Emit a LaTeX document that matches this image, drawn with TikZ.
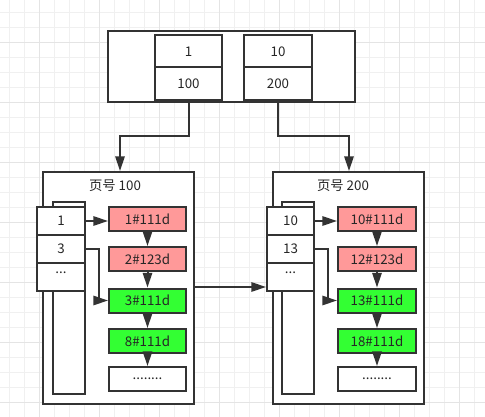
\documentclass[tikz,border=0pt]{standalone}
\usepackage{fontspec}
\setmainfont{Noto Sans CJK SC}
\usetikzlibrary{arrows.meta}
\definecolor{ln}{HTML}{333333}
\definecolor{pinkc}{HTML}{FF9999}
\definecolor{greenc}{HTML}{33FF33}
\definecolor{gmin}{HTML}{F0F0F0}
\definecolor{gmaj}{HTML}{E4E4E4}
\tikzset{
  box/.style={draw=ln, line width=1.5pt, fill=white, inner sep=0pt, font=\fontsize{10}{11}\selectfont, text=black!85},
  rec/.style={box, minimum height=18pt},
  arr/.style={draw=ln, line width=1.5pt, -{Triangle[length=11pt,width=7pt]}},
  title/.style={inner sep=0pt, font=\fontsize{10}{11}\selectfont, text=black!85}
}
\begin{document}
\begin{tikzpicture}[x=0.75pt,y=-0.75pt]
\useasboundingbox (0,0) rectangle (485,417);
\fill[white] (0,0) rectangle (485,417);
% grid
\foreach \i in {0,...,31} {
  \pgfmathsetmacro{\xx}{9.3+15*\i}
  \draw[gmin, line width=0.75pt] (\xx,0) -- (\xx,417);
}
\foreach \i in {0,...,27} {
  \pgfmathsetmacro{\yy}{12.3+15*\i}
  \draw[gmin, line width=0.75pt] (0,\yy) -- (485,\yy);
}
\foreach \i in {0,...,7} {
  \pgfmathsetmacro{\xx}{39.3+60*\i}
  \draw[gmaj, line width=0.75pt] (\xx,0) -- (\xx,417);
}
\foreach \i in {0,...,6} {
  \pgfmathsetmacro{\yy}{42.3+60*\i}
  \draw[gmaj, line width=0.75pt] (0,\yy) -- (485,\yy);
}
% top box
\node[box, minimum width=185.25pt, minimum height=53.25pt] (top) at (231.5,66.5) {};
\node[box, minimum width=50.25pt, minimum height=24.4pt] (ka) at (188.5,51.25) {1};
\node[box, minimum width=50.25pt, minimum height=24.4pt] (pa) at (188.5,83.75) {100};
\node[box, minimum width=51pt, minimum height=24.4pt] (kb) at (278,51.25) {10};
\node[box, minimum width=51pt, minimum height=24.4pt] (pb) at (278,83.75) {200};
% pages
\node[box, minimum width=113.25pt, minimum height=174pt] (p1) at (118.5,288) {};
\node[box, minimum width=113.25pt, minimum height=174pt] (p2) at (348.5,288) {};
\node[title] (t1) at (115,186) {页号 100};
\node[title] (t2) at (343,186) {页号 200};
% back rects
\node[box, minimum width=24pt, minimum height=144pt] (b1) at (69,298) {};
\node[box, minimum width=24pt, minimum height=144pt] (b2) at (298,298) {};
% index cells page 1
\node[box, minimum width=36pt, minimum height=21pt] (i1) at (61,221) {1};
\node[box, minimum width=36pt, minimum height=21pt] (i2) at (61,249) {3};
\node[box, minimum width=36pt, minimum height=21pt] (i3) at (61,277) {};
\node[inner sep=0pt, font=\fontsize{10}{11}\selectfont, text=black!85] (d1) at (61,273) {...};
% index cells page 2
\node[box, minimum width=35.25pt, minimum height=21pt] (j1) at (290.5,221) {10};
\node[box, minimum width=35.25pt, minimum height=21pt] (j2) at (290.5,249) {13};
\node[box, minimum width=35.25pt, minimum height=21pt] (j3) at (290.5,277) {};
\node[inner sep=0pt, font=\fontsize{10}{11}\selectfont, text=black!85] (d2) at (290.5,273) {...};
% records page 1
\node[rec, fill=pinkc, minimum width=57.75pt] (r1) at (147.5,219) {1\#111d};
\node[rec, fill=pinkc, minimum width=57.75pt] (r2) at (147.5,259) {2\#123d};
\node[rec, fill=greenc, minimum width=57.75pt] (r3) at (147.5,300.5) {3\#111d};
\node[rec, fill=greenc, minimum width=57.75pt] (r4) at (147.5,341) {8\#111d};
\node[rec, minimum width=57.75pt] (r5) at (147.5,379) {........};
% records page 2
\node[rec, fill=pinkc, minimum width=58.5pt] (s1) at (377,219) {10\#111d};
\node[rec, fill=pinkc, minimum width=58.5pt] (s2) at (377,259) {12\#123d};
\node[rec, fill=greenc, minimum width=58.5pt] (s3) at (377,300.5) {13\#111d};
\node[rec, fill=greenc, minimum width=58.5pt] (s4) at (377,341) {18\#111d};
\node[rec, minimum width=58.5pt] (s5) at (377,379) {........};
% connectors top -> pages
\coordinate (k1) at (120,136);
\coordinate (k2) at (349,136);
\draw[arr] (pa.south) |- (k1) -- (k1 |- p1.north);
\draw[arr] (pb.south) |- (k2) -- (k2 |- p2.north);
% page1 -> page2
\draw[arr] (p1.east |- 0,287) -- (j3.west |- 0,287);
% index -> records
\draw[arr] (i1.east) -- (i1.east -| r1.west);
\draw[arr] (i2.east) -- ++(13,0) |- (r3.west);
\draw[arr] (j1.east) -- (j1.east -| s1.west);
\draw[arr] (j2.east) -- ++(13,0) |- (s3.west);
% record chains
\draw[arr] (r1.south) -- (r2.north);
\draw[arr] (r2.south) -- (r3.north);
\draw[arr] (r3.south) -- (r4.north);
\draw[arr] (r4.south) -- (r5.north);
\draw[arr] (s1.south) -- (s2.north);
\draw[arr] (s2.south) -- (s3.north);
\draw[arr] (s3.south) -- (s4.north);
\draw[arr] (s4.south) -- (s5.north);
\end{tikzpicture}
\end{document}
